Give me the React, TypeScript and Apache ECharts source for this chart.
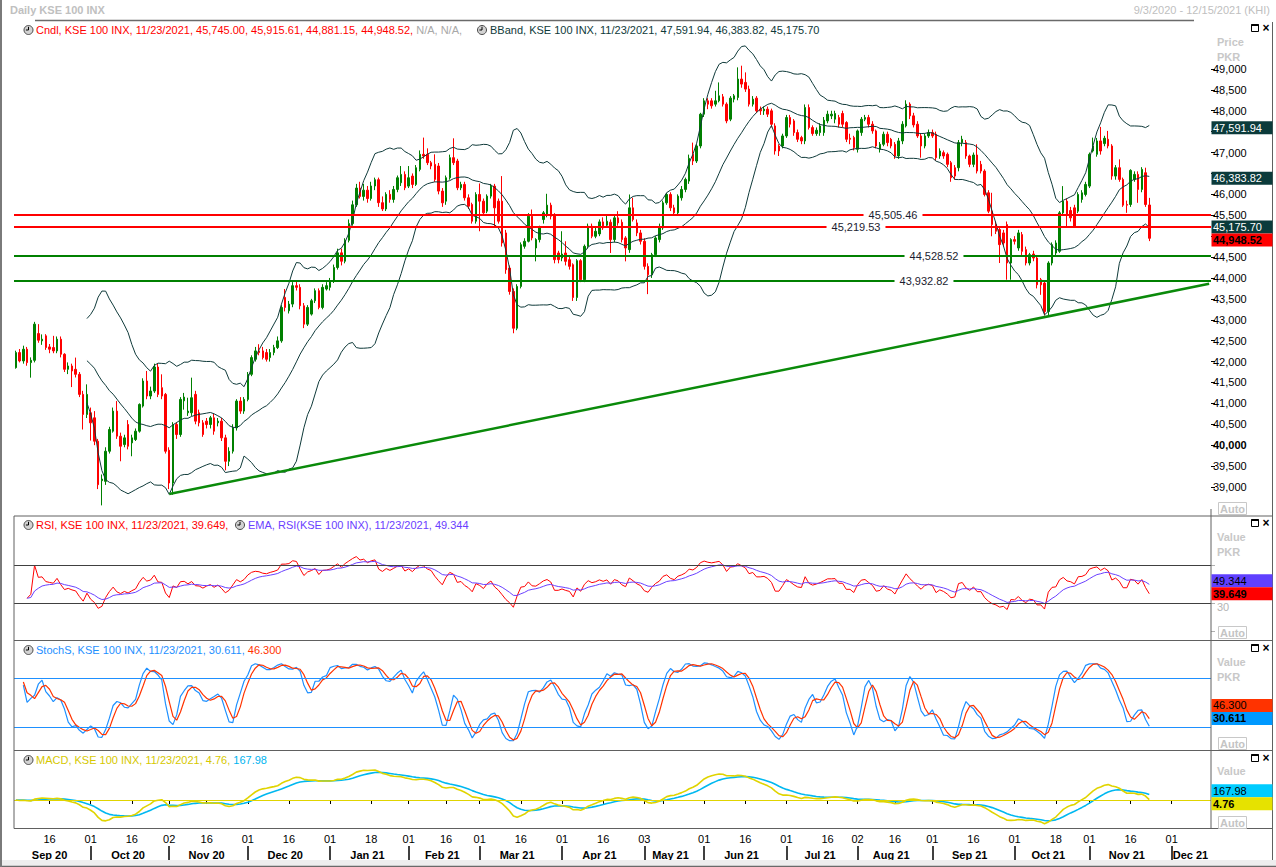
import React, { useEffect, useRef } from "react";
import * as echarts from "echarts";

const FONT = '"Liberation Sans", Arial, sans-serif';

// ---------- DATA ----------
const FIRST_DAY = "2020-09-03";
const LAST_DAY = "2021-12-15";
const HOLIDAYS = [
  "2020-10-30", "2020-12-25", "2021-02-05", "2021-03-23",
  "2021-05-10", "2021-05-11", "2021-05-12", "2021-05-13", "2021-05-14",
  "2021-07-20", "2021-07-21", "2021-07-22", "2021-08-18", "2021-08-19", "2021-10-19",
];

// candles: [open, close, low, high]
const CANDLES_SEP_DEC_2020: number[][] = [
  [41855, 42215, 41830, 42260], [42215, 42015, 41980, 42300], [42015, 42295, 41950, 42380], [42295, 41975, 41900, 42350],
  [41975, 42030, 41615, 42100], [42030, 42895, 41980, 42950], [42670, 42510, 42450, 42895], [42495, 42535, 42400, 42650],
  [42615, 42335, 42280, 42655], [42350, 42295, 42200, 42420], [42335, 42255, 42200, 42615], [42255, 42535, 42200, 42600],
  [42535, 42175, 42100, 42600], [42175, 41815, 41750, 42200], [41815, 41895, 41700, 41980], [41895, 41775, 41390, 41950],
  [41815, 41695, 41620, 42095], [41695, 41215, 41150, 41750], [41215, 40735, 40375, 41300], [40735, 41215, 40650, 41455],
  [40775, 40535, 40110, 40900], [40655, 40095, 40000, 40815], [40095, 39055, 38950, 40150], [39150, 39190, 38560, 39300],
  [39135, 39855, 39050, 39950], [39855, 40375, 39800, 40440], [40335, 40815, 40300, 40900], [40815, 40215, 40150, 41055],
  [40215, 39975, 39615, 40300], [40015, 40175, 39950, 40250], [40495, 39975, 39900, 40600], [40055, 40175, 39735, 40250],
  [40135, 40335, 40100, 40400], [40335, 40975, 40300, 41000], [40935, 41535, 40900, 41600], [41535, 41175, 41100, 41775],
  [41175, 41295, 41100, 41400], [41295, 41870, 41250, 41950], [41870, 41215, 41150, 41950], [41375, 41175, 41100, 41695],
  [41215, 39855, 39800, 41250], [39880, 39095, 38950, 39950], [39095, 40495, 38815, 40550], [40495, 40255, 40150, 40550],
  [40255, 41095, 40200, 41150], [41060, 41150, 40850, 41250], [40775, 40815, 40700, 41135], [40775, 41135, 40700, 41615],
  [41215, 40575, 40500, 41300], [40775, 40535, 40450, 40850], [40535, 40255, 40200, 40600], [40575, 40495, 40400, 40650],
  [40495, 40655, 40400, 40700], [40655, 40335, 40250, 40750], [40535, 40575, 40450, 40650], [40575, 40175, 40100, 40650],
  [40175, 39615, 39400, 40250], [39615, 39855, 39500, 39950], [39855, 40415, 39800, 40500], [40415, 41055, 40350, 41100],
  [41055, 40815, 40750, 41150], [40815, 41095, 40750, 41150], [41095, 41695, 41050, 41750], [41695, 42095, 41650, 42150],
  [42055, 42255, 42000, 42350], [42255, 42215, 42150, 42415], [42255, 42095, 42050, 42350], [42215, 42055, 42000, 42300],
  [42095, 42215, 42000, 42300], [42215, 42335, 42150, 42400], [42335, 42495, 42300, 42600], [42495, 43295, 42450, 43350],
  [43535, 43295, 43200, 43735], [43215, 43375, 43150, 43450], [43375, 43815, 43300, 43900], [43815, 43775, 43700, 43950],
  [43775, 43335, 43250, 43850], [43335, 42895, 42800, 43400], [42895, 43295, 42850, 43350], [43135, 43455, 43100, 43500],
  [43455, 43695, 43400, 43750], [43695, 43295, 43250, 43750], [43295, 43775, 43250, 43850], [43735, 43815, 43700, 43900],
  [43775, 43935, 43700, 44000],
];
const CANDLES_JAN_2021: number[][] = [
  [43935, 44250, 43880, 44320], [44250, 44600, 44200, 44700], [44600, 44400, 44300, 44700], [44400, 44900, 44350, 44950],
  [44900, 45300, 44850, 45400], [45300, 45750, 45250, 45850], [45750, 46150, 45700, 46250], [46150, 45950, 45900, 46300],
  [45950, 46100, 45850, 46250], [46100, 45900, 45800, 46200], [45900, 46200, 45850, 46300], [46200, 46350, 46100, 46400],
  [46350, 45800, 45700, 46400], [45800, 45650, 45600, 45950], [45650, 46000, 45600, 46050], [46000, 45880, 45800, 46100],
];
const CANDLES_FEB_JUL_2021: number[][] = [
  [45877, 46117, 45800, 46200], [46117, 46397, 46050, 46450], [46277, 46477, 46200, 46677], [46477, 46157, 46100, 46550],
  [46197, 46397, 46150, 46677], [46437, 46237, 46150, 46500], [46237, 46637, 46200, 46700], [46597, 46957, 46550, 47050],
  [46957, 46917, 46850, 47357], [46957, 46757, 46700, 47100], [46757, 46677, 46600, 46800], [46717, 46357, 46300, 46957],
  [46677, 46077, 46000, 46750], [46077, 45797, 45700, 46150], [45837, 46397, 45750, 46450], [46397, 46877, 46350, 46950],
  [46877, 46757, 46700, 47340], [46797, 46157, 46100, 46850], [46157, 46237, 46100, 46300], [46237, 45917, 45850, 46300],
  [45917, 45717, 45650, 46000], [45757, 45357, 45300, 45800], [45357, 45997, 45300, 46050], [45997, 45837, 45117, 46260],
  [45837, 45557, 45500, 45900], [45597, 45957, 45550, 46000], [45957, 46197, 45900, 46250], [46197, 45677, 45197, 46250],
  [45837, 45357, 45300, 45900], [45837, 44837, 44750, 46437], [45077, 44197, 44100, 45150], [44237, 43677, 43600, 44300],
  [43677, 42797, 42677, 43750], [42797, 43797, 42750, 43850], [43797, 44797, 43750, 44850], [44757, 44877, 44700, 44950],
  [44877, 45477, 44850, 45550], [45477, 44957, 44900, 45637], [44717, 44917, 44397, 44950], [44917, 45213, 44850, 45250],
  [45397, 45557, 45300, 45600], [45517, 45741, 45450, 46013], [45741, 45477, 45400, 45800], [45517, 44437, 44350, 45550],
  [44597, 44437, 44350, 44650], [44477, 44573, 44400, 45117], [44597, 44397, 44300, 44877], [44437, 44277, 44200, 44500],
  [44317, 43533, 43450, 44350], [43533, 44413, 43450, 44450], [44413, 43957, 43900, 44450], [43957, 44757, 43900, 44800],
  [44757, 45237, 44700, 45300], [45237, 44997, 44950, 45300], [44997, 45117, 44950, 45200], [45053, 45341, 45000, 45400],
  [45341, 45197, 45150, 45450], [45261, 45357, 45200, 45517], [45333, 44917, 44597, 45400], [44917, 45437, 44850, 45500],
  [45437, 45317, 45250, 45597], [45333, 44917, 44850, 45400], [44957, 44717, 44397, 45000], [44677, 45677, 44600, 45997],
  [45677, 45397, 45350, 45917], [45317, 45077, 45000, 45400], [45077, 44877, 44800, 45150], [44877, 44277, 44200, 44950],
  [44277, 44077, 43613, 44350], [44077, 44557, 44000, 44600], [44557, 44957, 44500, 45000], [44917, 45213, 44850, 45300],
  [45197, 45797, 45150, 45850], [45797, 45997, 45750, 46037], [45997, 45677, 45600, 46050], [45677, 45557, 45500, 45750],
  [45557, 45957, 45500, 46000], [45917, 46117, 45850, 46200], [46117, 46357, 46050, 46400], [46317, 46861, 46250, 46950],
  [46957, 46797, 46700, 47237], [46797, 47157, 46750, 47200], [47157, 47917, 47100, 47950], [47917, 48237, 47850, 48300],
  [48237, 48157, 48037, 48300], [48237, 48117, 48050, 48300], [48157, 48237, 48100, 48477], [48237, 48357, 48200, 48677],
  [48333, 48157, 48100, 48400], [48157, 47757, 47700, 48200], [47797, 48301, 47750, 48350], [48277, 48357, 48200, 48400],
  [48317, 48757, 48250, 49037], [48757, 48637, 48550, 49077], [48677, 48517, 48450, 48917], [48517, 48157, 48100, 48600],
  [48157, 48277, 48100, 48350], [48301, 47997, 47950, 48350], [48037, 47997, 47900, 48100], [47997, 48037, 47900, 48100],
  [48037, 47917, 47850, 48100], [47997, 47677, 47600, 48050], [47637, 47037, 46950, 47700], [47157, 47037, 46917, 47200],
  [47157, 47397, 47100, 47450], [47397, 47837, 47350, 47900], [47837, 47677, 47600, 47900], [47757, 47477, 47400, 47800],
  [47477, 47317, 47250, 47550], [47357, 47277, 47200, 47400], [47277, 48077, 47200, 48150],
];
const CANDLES_JUL_NOV_2021: number[][] = [
  [48077, 47597, 47550, 48150], [47597, 47453, 47400, 47650], [47453, 47533, 47400, 47600], [47477, 47637, 47400, 47700],
  [47477, 47773, 47400, 47850], [47757, 47917, 47700, 48000], [47877, 47917, 47800, 48000], [47797, 47933, 47700, 48000],
  [47837, 47677, 47600, 47900], [47933, 47677, 47600, 48000], [47717, 47317, 47250, 47750], [47341, 47317, 47200, 47450],
  [47357, 47117, 47050, 47400], [47077, 47517, 47000, 47550], [47477, 47797, 47400, 47850], [47797, 47837, 47750, 47900],
  [47837, 47677, 47600, 47900], [47677, 47517, 47450, 47750], [47517, 47157, 47100, 47550], [47077, 47197, 47000, 47250],
  [47197, 47437, 47150, 47500], [47437, 47237, 47150, 47500], [47317, 47157, 47100, 47350], [47197, 46917, 46850, 47250],
  [46917, 47277, 46850, 47350], [47277, 47677, 47200, 47750], [47637, 48157, 47600, 48250], [48157, 47877, 47800, 48200],
  [47877, 47661, 47600, 47950], [47677, 47397, 47350, 47750], [47397, 47157, 46877, 47450], [47157, 47397, 47100, 47450],
  [47397, 47477, 47350, 47550], [47477, 47397, 47350, 47550], [47437, 46877, 46800, 47500], [46917, 47037, 46850, 47100],
  [46997, 46917, 46850, 47050], [46957, 46717, 46650, 47000], [46757, 46397, 46300, 46800], [46637, 46437, 46350, 46700],
  [46637, 47237, 46550, 47300], [47237, 47317, 47150, 47400], [47237, 46917, 46850, 47300], [46917, 46717, 46650, 46950],
  [46717, 46941, 46650, 47000], [46941, 46557, 46500, 47197], [46717, 46557, 46500, 46800], [46557, 45997, 45950, 46600],
  [46037, 45597, 45550, 46100], [45597, 45277, 44997, 46037], [45277, 45117, 45050, 45350], [45157, 44797, 44357, 45200],
  [45077, 44837, 44750, 45150], [45277, 44357, 43957, 45350], [44357, 44917, 43957, 44950], [44917, 44877, 44800, 45000],
  [44717, 45077, 44650, 45150], [45037, 44637, 44550, 45100], [44677, 44357, 44300, 44750], [44357, 44557, 44300, 44600],
  [44573, 44477, 44400, 44650], [44477, 43837, 43750, 44550], [43957, 43837, 43597, 44000], [43877, 43197, 43100, 43950],
  [43197, 44357, 43080, 44400], [44357, 44797, 44300, 44850], [44597, 44837, 44550, 44900], [44637, 45557, 44600, 45600],
  [45557, 45837, 45500, 46197], [45837, 45517, 45197, 45900], [45613, 45437, 45350, 45700], [45677, 45237, 45200, 45750],
  [45597, 45997, 45550, 46050], [45877, 46037, 45800, 46100], [45997, 46237, 45950, 46300], [46197, 46957, 46150, 47000],
  [47037, 47157, 47000, 47357], [46957, 47277, 46900, 47350], [47277, 47037, 46950, 47613], [47213, 47341, 47150, 47400],
  [47317, 47157, 47100, 47517], [47157, 46437, 46350, 47200], [46437, 46637, 46350, 46700], [46637, 46357, 46300, 46837],
  [46357, 45741, 45700, 46400], [45757, 45741, 45557, 45850], [45757, 46573, 45700, 46600], [46357, 46477, 46300, 46550],
  [46477, 46117, 45797, 46550], [46117, 46597, 46050, 46650], [46517, 45757, 45700, 46637], [45745.0, 44948.52, 44881.15, 45915.61],
];

const PRICE_TICKS = [39000, 39500, 40000, 40500, 41000, 41500, 42000, 42500, 43000, 43500, 44000, 44500, 45000, 45500, 46000, 46500, 47000, 47500, 48000, 48500, 49000];
const RESISTANCE = [45505.46, 45219.53];
const SUPPORT = [44528.52, 43932.82];
const TREND: [string, number][] = [["2020-11-02", 38830], ["2021-12-15", 43860]];
const RSI_LEVELS = [70, 30];
const RSI_TICKS = [0, 30, 70];
const STOCH_LEVELS = [80, 20];

const PRICE_LAST = [47591.94, 46383.82, 45175.70, 44948.52];
const RSI_LAST = [49.344, 39.649];
const STOCH_LAST = [46.300, 30.611];
const MACD_LAST = [167.98, 4.76];

const LEGEND_CNDL = "Cndl, KSE 100 INX, 11/23/2021, 45,745.00, 45,915.61, 44,881.15, 44,948.52,";
const LEGEND_NA = " N/A, N/A,";
const LEGEND_BB = "BBand, KSE 100 INX, 11/23/2021, 47,591.94, 46,383.82, 45,175.70";
const LEGEND_RSI = "RSI, KSE 100 INX, 11/23/2021, 39.649,";
const LEGEND_EMA = "EMA, RSI(KSE 100 INX), 11/23/2021, 49.344";
const LEGEND_STOCH_K = "StochS, KSE 100 INX, 11/23/2021, 30.611,";
const LEGEND_STOCH_D = " 46.300";
const LEGEND_MACD = "MACD, KSE 100 INX, 11/23/2021, 4.76,";
const LEGEND_SIG = " 167.98";
const MONTHS = ["Jan", "Feb", "Mar", "Apr", "May", "Jun", "Jul", "Aug", "Sep", "Oct", "Nov", "Dec"];

const CANDLES = [...CANDLES_SEP_DEC_2020, ...CANDLES_JAN_2021, ...CANDLES_FEB_JUL_2021, ...CANDLES_JUL_NOV_2021];

// ---------- helpers ----------
function buildDates(): string[] {
  const out: string[] = [];
  const [y0, m0, d0] = FIRST_DAY.split("-").map(Number);
  const [y1, m1, d1] = LAST_DAY.split("-").map(Number);
  const d = new Date(Date.UTC(y0, m0 - 1, d0));
  const end = Date.UTC(y1, m1 - 1, d1);
  while (d.getTime() <= end) {
    const wd = d.getUTCDay();
    const s = d.toISOString().slice(0, 10);
    if (wd !== 0 && wd !== 6 && HOLIDAYS.indexOf(s) < 0) out.push(s);
    d.setUTCDate(d.getUTCDate() + 1);
  }
  return out;
}

function emaSeries(src: (number | null)[], n: number): (number | null)[] {
  const k = 2 / (n + 1);
  let prev: number | null = null;
  return src.map((v) => {
    if (v == null) return null;
    prev = prev == null ? v : v * k + prev * (1 - k);
    return prev;
  });
}

function indicators() {
  const c = CANDLES.map((x) => x[1]);
  const lo = CANDLES.map((x) => x[2]);
  const hi = CANDLES.map((x) => x[3]);
  const N = c.length;
  const bbU: (number | null)[] = [], bbM: (number | null)[] = [], bbL: (number | null)[] = [];
  for (let i = 0; i < N; i++) {
    if (i < 19) { bbU.push(null); bbM.push(null); bbL.push(null); continue; }
    const w = c.slice(i - 19, i + 1);
    const m = w.reduce((a, b) => a + b, 0) / 20;
    const sd = Math.sqrt(w.reduce((a, b) => a + (b - m) * (b - m), 0) / 20);
    bbM.push(m); bbU.push(m + 2 * sd); bbL.push(m - 2 * sd);
  }
  const rsi: (number | null)[] = [null];
  let ag = 0, al = 0;
  for (let i = 1; i < N; i++) {
    const d = c[i] - c[i - 1];
    const n = Math.min(i, 14);
    ag = (ag * (n - 1) + Math.max(d, 0)) / n;
    al = (al * (n - 1) + Math.max(-d, 0)) / n;
    const r = al === 0 ? 100 : 100 - 100 / (1 + ag / al);
    rsi.push(i >= 3 ? r : null);
  }
  const rsiEma = emaSeries(rsi, 9);
  const raw: number[] = [];
  for (let i = 0; i < N; i++) {
    const s = Math.max(0, i - 13);
    const ll = Math.min(...lo.slice(s, i + 1));
    const hh = Math.max(...hi.slice(s, i + 1));
    raw.push(hh === ll ? 50 : ((c[i] - ll) / (hh - ll)) * 100);
  }
  const avg3 = (a: number[], i: number) => { const s = Math.max(0, i - 2); const w = a.slice(s, i + 1); return w.reduce((x, y) => x + y, 0) / w.length; };
  const kS = raw.map((_, i) => avg3(raw, i));
  const dS = kS.map((_, i) => avg3(kS, i));
  const e12 = emaSeries(c, 12), e26 = emaSeries(c, 26);
  const macd = c.map((_, i) => (e12[i] as number) - (e26[i] as number));
  const sig = emaSeries(macd, 9);
  return { bbU, bbM, bbL, rsi, rsiEma, kS: kS.map((v, i) => (i >= 2 ? v : null)), dS: dS.map((v, i) => (i >= 2 ? v : null)), macd, sig };
}

function fmtNum(v: number, dec: number) {
  return v.toLocaleString("en-US", { minimumFractionDigits: dec, maximumFractionDigits: dec });
}

const PRICE_MIN = 38330;
const PRICE_MAX = 50170;

function buildOption(dates: string[]) {
  const ind = indicators();
  const tickSet = new Set<number>();
  const labelSet = new Set<number>();
  const monthStart = new Set<number>();
  const monthMid = new Set<number>();
  let last = -100;
  const ranges: { [k: string]: [number, number] } = {};
  dates.forEach((s, i) => {
    const key = s.slice(0, 7);
    if (!ranges[key]) ranges[key] = [i, i]; else ranges[key][1] = i;
    if (i === 0) return;
    const p = dates[i - 1];
    const day = Number(s.slice(8, 10));
    const pday = Number(p.slice(8, 10));
    let isTick = false;
    if (p.slice(0, 7) !== key) { isTick = true; monthStart.add(i); }
    else if (day >= 16 && pday < 16) isTick = true;
    if (isTick) {
      tickSet.add(i);
      if (i - last >= 7) { labelSet.add(i); last = i; }
    }
  });
  Object.keys(ranges).forEach((k) => monthMid.add(Math.floor((ranges[k][0] + ranges[k][1]) / 2)));

  const mx = Math.max(...ind.macd, ...(ind.sig as number[]));
  const mn = Math.min(...ind.macd, ...(ind.sig as number[]));
  const s = Math.max(mx / 30, -mn / 24, 1);

  // price labels hidden behind the last-value boxes
  const pxOf = (v: number) => 20 + ((PRICE_MAX - v) / (PRICE_MAX - PRICE_MIN)) * 495;
  const visibleTicks = PRICE_TICKS.filter((t) => PRICE_LAST.every((m) => Math.abs(pxOf(t) - pxOf(m)) > 12));

  const hiddenX = (i: number) => ({
    type: "category", gridIndex: i, data: dates, boundaryGap: true,
    axisLine: { show: false }, axisTick: { show: false }, axisLabel: { show: false }, splitLine: { show: false },
  });
  const thin = (color: string, width = 1) => ({ color, width, type: "solid" });

  return {
    animation: false,
    backgroundColor: "#ffffff",
    textStyle: { fontFamily: FONT },
    grid: [
      { left: 14, top: 20, width: 1197, height: 495 },
      { left: 14, top: 517, width: 1197, height: 123 },
      { left: 14, top: 641, width: 1197, height: 109 },
      { left: 14, top: 751, width: 1197, height: 77 },
    ],
    xAxis: [
      hiddenX(0), hiddenX(1), hiddenX(2),
      {
        ...hiddenX(3),
        axisTick: { show: true, length: 4, alignWithLabel: true, interval: (i: number) => tickSet.has(i), lineStyle: { color: "#000" } },
        axisLabel: {
          show: true, interval: (i: number) => labelSet.has(i),
          formatter: (v: string) => v.slice(8, 10), color: "#000", fontSize: 11, fontFamily: FONT, margin: 5,
        },
      },
      {
        type: "category", gridIndex: 3, data: dates, boundaryGap: true, position: "bottom", offset: 18,
        axisLine: { show: false }, splitLine: { show: false },
        axisTick: { show: true, length: 14, alignWithLabel: true, interval: (i: number) => monthStart.has(i), lineStyle: { color: "#000", width: 1.5 } },
        axisLabel: {
          show: true, interval: (i: number) => monthMid.has(i),
          formatter: (v: string) => MONTHS[Number(v.slice(5, 7)) - 1] + " " + v.slice(2, 4),
          color: "#000", fontSize: 11, fontWeight: "bold", fontFamily: FONT, margin: 3,
        },
      },
    ],
    yAxis: [
      {
        type: "value", gridIndex: 0, position: "right", min: PRICE_MIN, max: PRICE_MAX, scale: true,
        splitLine: { show: false }, axisLine: { show: false },
        axisTick: { show: true, length: 4, customValues: PRICE_TICKS, lineStyle: { color: "#000" } },
        axisLabel: {
          show: true, customValues: visibleTicks, margin: 2, color: "#000", fontSize: 11, fontFamily: FONT,
          formatter: (v: number) => (v === 40000 ? "{b|" + fmtNum(v, 0) + "}" : fmtNum(v, 0)),
          rich: { b: { fontWeight: "bold", fontSize: 11, fontFamily: FONT, color: "#000" } },
        },
      },
      {
        type: "value", gridIndex: 1, position: "right", min: -8.9, max: 120.5,
        splitLine: { show: false }, axisLine: { show: false },
        axisTick: { show: true, length: 4, customValues: RSI_TICKS, lineStyle: { color: "#b0b0b0" } },
        axisLabel: { show: false },
      },
      { type: "value", gridIndex: 2, position: "right", min: -8.2, max: 125.3, splitLine: { show: false }, axisLine: { show: false }, axisTick: { show: false }, axisLabel: { show: false } },
      { type: "value", gridIndex: 3, position: "right", min: -28 * s, max: 49 * s, splitLine: { show: false }, axisLine: { show: false }, axisTick: { show: false }, axisLabel: { show: false } },
    ],
    series: [
      {
        type: "candlestick", name: "Cndl", xAxisIndex: 0, yAxisIndex: 0, data: CANDLES, barWidth: 2,
        itemStyle: { color: "#008000", color0: "#ff0000", borderColor: "#008000", borderColor0: "#ff0000", borderWidth: 1 },
        markLine: {
          silent: true, symbol: ["none", "none"], label: { show: false }, animation: false,
          data: [
            ...RESISTANCE.map((v) => ({ yAxis: v, lineStyle: thin("#ff0000", 2) })),
            ...SUPPORT.map((v) => ({ yAxis: v, lineStyle: thin("#008000", 2) })),
          ],
        },
      },
      ...[ind.bbU, ind.bbM, ind.bbL].map((d) => ({
        type: "line", xAxisIndex: 0, yAxisIndex: 0, data: d, symbol: "none", showSymbol: false,
        lineStyle: { color: "#0f3a3a", width: 1 }, silent: true,
      })),
      {
        type: "line", xAxisIndex: 0, yAxisIndex: 0, data: TREND, symbol: "none", showSymbol: false,
        lineStyle: { color: "#0a8a0a", width: 2.5 }, silent: true, z: 5,
      },
      {
        type: "line", xAxisIndex: 1, yAxisIndex: 1, data: ind.rsi, symbol: "none", showSymbol: false,
        lineStyle: { color: "#ff0000", width: 1 }, silent: true,
        markLine: { silent: true, symbol: ["none", "none"], label: { show: false }, data: RSI_LEVELS.map((v) => ({ yAxis: v, lineStyle: thin("#404040", 1) })) },
      },
      {
        type: "line", xAxisIndex: 1, yAxisIndex: 1, data: ind.rsiEma, symbol: "none", showSymbol: false,
        lineStyle: { color: "#6a40ff", width: 1 }, silent: true,
      },
      {
        type: "line", xAxisIndex: 2, yAxisIndex: 2, data: ind.kS, symbol: "none", showSymbol: false,
        lineStyle: { color: "#1e90ff", width: 1.2 }, silent: true,
        markLine: { silent: true, symbol: ["none", "none"], label: { show: false }, data: STOCH_LEVELS.map((v) => ({ yAxis: v, lineStyle: thin("#1e90ff", 1) })) },
      },
      {
        type: "line", xAxisIndex: 2, yAxisIndex: 2, data: ind.dS, symbol: "none", showSymbol: false,
        lineStyle: { color: "#ff3300", width: 1.2 }, silent: true,
      },
      {
        type: "line", xAxisIndex: 3, yAxisIndex: 3, data: ind.sig, symbol: "none", showSymbol: false,
        lineStyle: { color: "#00b8f0", width: 1.6 }, silent: true,
      },
      {
        type: "line", xAxisIndex: 3, yAxisIndex: 3, data: ind.macd, symbol: "none", showSymbol: false,
        lineStyle: { color: "#e0d400", width: 1.6 }, silent: true,
        markLine: { silent: true, symbol: ["none", "none"], label: { show: false }, data: [{ yAxis: 0, lineStyle: thin("#e0d400", 1) }] },
      },
    ],
  };
}

function buildGraphics(chart: any) {
  const g: any[] = [];
  const font = (size = 11, bold = false) => `${bold ? "bold " : ""}${size}px ${FONT}`;
  const T = (x: number, y: number, text: string, fill: string, o: any = {}) =>
    g.push({ type: "text", z: 100, x, y, style: { text, fill, font: font(o.size || 11, !!o.bold), textAlign: o.align || "left", textVerticalAlign: "middle", ...(o.extra || {}) } });
  const L = (x1: number, y1: number, x2: number, y2: number, stroke: string, w = 1) =>
    g.push({ type: "line", z: 100, shape: { x1, y1, x2, y2 }, style: { stroke, lineWidth: w } });
  const clock = (cx: number, cy: number) => {
    g.push({ type: "circle", z: 100, shape: { cx, cy, r: 4.5 }, style: { fill: "#d2d2d2", stroke: "#4a4a4a", lineWidth: 1 } });
    g.push({ type: "polyline", z: 101, shape: { points: [[cx, cy - 3.2], [cx, cy], [cx - 2.6, cy]] }, style: { stroke: "#000", lineWidth: 1, fill: "rgba(0,0,0,0)" } });
  };
  const win = (y: number) => {
    g.push({ type: "rect", z: 100, shape: { x: 1251.5, y: y - 3.5, width: 7, height: 7 }, style: { fill: "rgba(0,0,0,0)", stroke: "#000", lineWidth: 1 } });
    L(1251.5, y - 3, 1258.5, y - 3, "#000", 2);
    T(1266, y, "×", "#000", { bold: true, size: 12, align: "center" });
  };
  const auto = (y: number) => {
    g.push({ type: "rect", z: 100, shape: { x: 1218.5, y: y + 0.5, width: 28, height: 12 }, style: { fill: "#fff", stroke: "#c8c8c8", lineWidth: 1 } });
    T(1232.5, y + 6.5, "Auto", "#c4c4c4", { bold: true, align: "center" });
  };

  // frame
  g.push({ type: "rect", z: 99, shape: { x: 2, y: 860, width: 1274, height: 6 }, style: { fill: "#eeeeee" } });
  L(0, 866.5, 1276, 866.5, "#6a6a6a", 1.5);
  L(1, 0, 1, 867, "#7a7a7a", 2);
  L(1272.5, 22, 1272.5, 860, "#606060", 1);
  L(35, 20.5, 1194, 20.5, "#6a6a6a", 1.5);
  [516, 640.5, 750.5, 828.5].forEach((y) => L(14, y, 1272.5, y, "#606060", 1));
  L(14, 516, 14, 828.5, "#606060", 1);
  L(1211, 509, 1211, 828.5, "#606060", 1);

  // titles
  T(10, 10, "Daily KSE 100 INX", "#c0c0c0", { bold: true });
  T(1270, 10, "9/3/2020 - 12/15/2021 (KHI)", "#c0c0c0", { align: "right" });

  // legends
  clock(28.5, 30);
  g.push({ type: "text", z: 100, x: 36, y: 30, style: { text: "{r|" + LEGEND_CNDL + "}{g|" + LEGEND_NA + "}", font: font(), textVerticalAlign: "middle", rich: { r: { fill: "#ff0000", font: font() }, g: { fill: "#a8a8a8", font: font() } } } });
  clock(482, 30);
  T(490, 30, LEGEND_BB, "#0f3a3a");
  clock(28.5, 525);
  T(36, 525, LEGEND_RSI, "#ff0000");
  clock(240, 525);
  T(248, 525, LEGEND_EMA, "#6a40ff");
  clock(28.5, 650);
  g.push({ type: "text", z: 100, x: 36, y: 650, style: { text: "{b|" + LEGEND_STOCH_K + "}{r|" + LEGEND_STOCH_D + "}", font: font(), textVerticalAlign: "middle", rich: { b: { fill: "#1e90ff", font: font() }, r: { fill: "#ff3300", font: font() } } } });
  clock(28.5, 760);
  g.push({ type: "text", z: 100, x: 36, y: 760, style: { text: "{y|" + LEGEND_MACD + "}{c|" + LEGEND_SIG + "}", font: font(), textVerticalAlign: "middle", rich: { y: { fill: "#d6c800", font: font() }, c: { fill: "#00b4f0", font: font() } } } });

  // right-hand axis captions
  T(1217, 42, "Price", "#c8c8c8", { bold: true });
  T(1217, 57, "PKR", "#c8c8c8", { bold: true });
  T(1217, 537, "Value", "#c8c8c8", { bold: true });
  T(1217, 552, "PKR", "#c8c8c8", { bold: true });
  T(1217, 662, "Value", "#c8c8c8", { bold: true });
  T(1217, 677, "PKR", "#c8c8c8", { bold: true });
  T(1217, 771, "Value", "#c8c8c8", { bold: true });
  [502, 626, 737, 816].forEach(auto);
  [28, 523, 648, 758].forEach(win);

  // RSI 30 label, just under its level
  const y30 = chart.convertToPixel({ yAxisIndex: 1 }, RSI_LEVELS[1]) as number;
  T(1217, y30 + 3.5, String(RSI_LEVELS[1]), "#b4b4b4");

  // level labels on the price pane
  const levelX = [893, 856, 934, 924];
  [...RESISTANCE, ...SUPPORT].forEach((v, i) => {
    const y = chart.convertToPixel({ yAxisIndex: 0 }, v);
    g.push({ type: "text", z: 100, x: levelX[i], y, style: { text: fmtNum(v, 2), fill: "#1c1c30", font: font(), textAlign: "center", textVerticalAlign: "middle", backgroundColor: "#ffffff", padding: [1, 5] } });
  });

  // last-value markers on the axes
  const groups = [
    { axis: 0, vals: PRICE_LAST, dec: 2, styles: [["#0b3b3b", "#ffffff", false], ["#0b3b3b", "#ffffff", false], ["#0b3b3b", "#ffffff", false], ["#ff0000", "#000000", true]] },
    { axis: 1, vals: RSI_LAST, dec: 3, styles: [["#6040ff", "#000000", false], ["#ff0000", "#000000", true]] },
    { axis: 2, vals: STOCH_LAST, dec: 3, styles: [["#ff3300", "#000000", false], ["#0099ff", "#000000", true]] },
    { axis: 3, vals: MACD_LAST, dec: 2, styles: [["#00ccff", "#000000", false], ["#e6e200", "#000000", true]] },
  ];
  groups.forEach((grp) => {
    const items = grp.vals.map((v, i) => ({ v, y: chart.convertToPixel({ yAxisIndex: grp.axis }, v) as number, st: grp.styles[i] }));
    items.sort((a, b) => a.y - b.y);
    for (let k = 1; k < items.length; k++) {
      const diff = items[k].y - items[k - 1].y;
      if (diff < 13) {
        const sh = 13 - diff;
        if (grp.axis === 1) items[k - 1].y -= sh;
        else { items[k - 1].y -= sh / 2; items[k].y += sh / 2; }
      }
    }
    items.forEach((it) => {
      const [bg, fg, bold] = it.st as [string, string, boolean];
      g.push({ type: "rect", z: 110, shape: { x: 1211.5, y: it.y - 6.5, width: 61, height: 13 }, style: { fill: bg } });
      g.push({ type: "text", z: 111, x: 1213, y: it.y, style: { text: grp.axis === 0 ? fmtNum(it.v, grp.dec) : it.v.toFixed(grp.dec), fill: fg, font: font(11, bold), textVerticalAlign: "middle" } });
    });
  });
  return g;
}

export default function App() {
  const ref = useRef<HTMLDivElement>(null);
  useEffect(() => {
    if (!ref.current) return;
    const chart = echarts.init(ref.current, null, { renderer: "svg" });
    const dates = buildDates();
    chart.setOption(buildOption(dates) as any);
    chart.setOption({ graphic: buildGraphics(chart) } as any);
    return () => chart.dispose();
  }, []);
  return <div ref={ref} style={{ position: "fixed", left: 0, top: 0, width: 1276, height: 867, background: "#ffffff" }} />;
}
